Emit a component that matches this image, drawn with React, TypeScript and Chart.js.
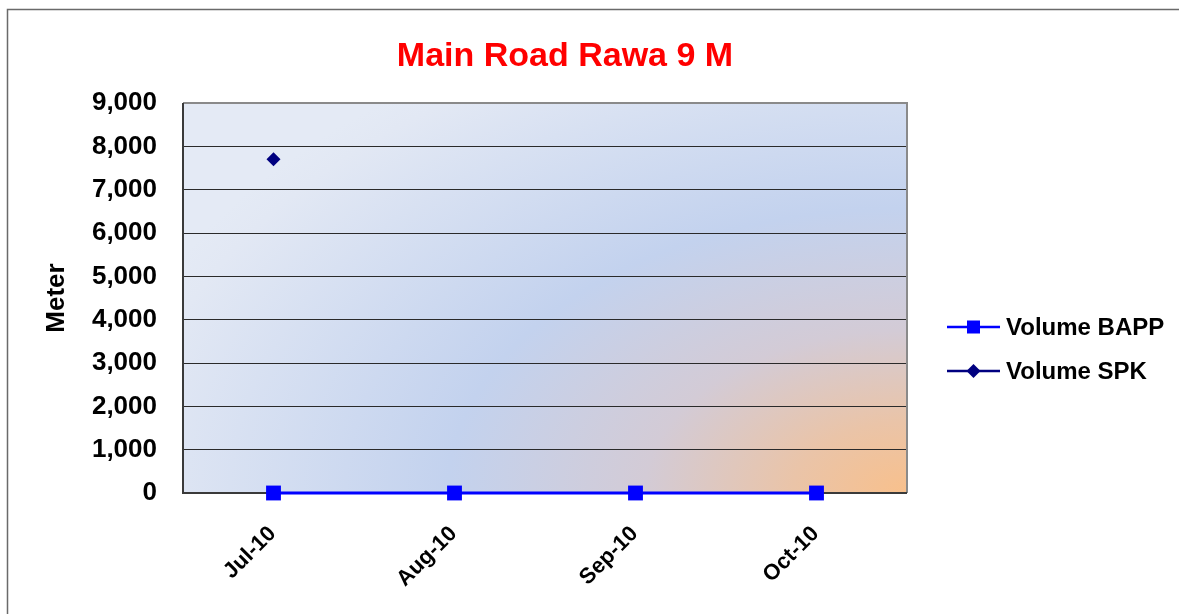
import { useEffect, useRef } from 'react';
import { Chart, registerables } from 'chart.js';

Chart.register(...registerables);

const TITLE = 'Main Road Rawa 9 M';
const Y_TITLE = 'Meter';
const categories = ['Jul-10', 'Aug-10', 'Sep-10', 'Oct-10'];
const volumeBAPP = [0, 0, 0, 0];
const volumeSPK = [7700, null, null, null];
const yTickValues = [0, 1000, 2000, 3000, 4000, 5000, 6000, 7000, 8000, 9000];
const seriesLabels = ['Volume BAPP', 'Volume SPK'];

const FONT = '"Liberation Sans", Arial, sans-serif';

const decorPlugin = {
  id: 'decor',
  beforeDraw(chart: any) {
    const { ctx, chartArea: a } = chart;
    ctx.save();
    // outer chart frame
    ctx.strokeStyle = '#6a6a6a';
    ctx.lineWidth = 1.5;
    ctx.strokeRect(7.5, 9.5, chart.width + 20, chart.height + 20);

    // plot background: elliptical radial gradient from bottom-right corner
    ctx.beginPath();
    ctx.rect(a.left, a.top, a.right - a.left, a.bottom - a.top);
    ctx.clip();
    const ry = 0.62;
    ctx.translate(a.right, a.bottom);
    ctx.scale(1, ry);
    const R = 820;
    const g = ctx.createRadialGradient(0, 0, 0, 0, 0, R);
    g.addColorStop(0, '#f8c08c');
    g.addColorStop(0.14, '#eac4a8');
    g.addColorStop(0.32, '#d3cbd6');
    g.addColorStop(0.56, '#c3d2ee');
    g.addColorStop(0.95, '#e2e8f4');
    g.addColorStop(1, '#e4eaf5');
    ctx.fillStyle = g;
    ctx.fillRect(-(a.right - a.left) - 2, -(a.bottom - a.top) / ry - 2, a.right - a.left + 4, (a.bottom - a.top) / ry + 4);
    ctx.restore();
  },
  beforeDatasetsDraw(chart: any) {
    const { ctx, chartArea: a } = chart;
    ctx.save();
    ctx.lineWidth = 2;
    ctx.strokeStyle = '#8a8a8a';
    ctx.beginPath();
    ctx.moveTo(a.left, a.top);
    ctx.lineTo(a.right, a.top);
    ctx.lineTo(a.right, a.bottom);
    ctx.stroke();
    ctx.strokeStyle = '#3a3a3a';
    ctx.beginPath();
    ctx.moveTo(a.left, a.top);
    ctx.lineTo(a.left, a.bottom);
    ctx.lineTo(a.right, a.bottom);
    ctx.stroke();
    ctx.restore();
  },
  afterDraw(chart: any) {
    const { ctx } = chart;
    ctx.save();
    // title
    ctx.fillStyle = '#ff0000';
    ctx.font = `bold 34px ${FONT}`;
    ctx.textAlign = 'center';
    ctx.textBaseline = 'alphabetic';
    ctx.fillText(TITLE, 565, 66);

    // legend
    chart.data.datasets.forEach((ds: any, i: number) => {
      const y = 327 + i * 44;
      ctx.strokeStyle = ds.borderColor;
      ctx.lineWidth = 2.5;
      ctx.beginPath();
      ctx.moveTo(947, y);
      ctx.lineTo(1000, y);
      ctx.stroke();
      ctx.fillStyle = ds.pointBackgroundColor;
      if (ds.pointStyle === 'rect') {
        ctx.fillRect(973.5 - 6.5, y - 6.5, 13, 13);
      } else {
        ctx.beginPath();
        ctx.moveTo(973.5, y - 7);
        ctx.lineTo(980.5, y);
        ctx.lineTo(973.5, y + 7);
        ctx.lineTo(966.5, y);
        ctx.closePath();
        ctx.fill();
      }
      ctx.fillStyle = '#000';
      ctx.font = `bold 24px ${FONT}`;
      ctx.textAlign = 'left';
      ctx.textBaseline = 'alphabetic';
      ctx.fillText(ds.label, 1006, y + 8);
    });
    ctx.restore();
  },
};

export default function App() {
  const ref = useRef<HTMLCanvasElement | null>(null);

  useEffect(() => {
    if (!ref.current) return;
    const chart = new Chart(ref.current, {
      type: 'line',
      data: {
        labels: categories,
        datasets: [
          {
            label: seriesLabels[0],
            data: volumeBAPP,
            borderColor: '#0000ff',
            backgroundColor: '#0000ff',
            pointBackgroundColor: '#0000ff',
            pointBorderColor: '#0000ff',
            borderWidth: 3,
            pointStyle: 'rect',
            pointRadius: 10.5,
            pointBorderWidth: 0,
            clip: false,
            tension: 0,
          },
          {
            label: seriesLabels[1],
            data: volumeSPK,
            borderColor: '#000080',
            backgroundColor: '#000080',
            pointBackgroundColor: '#000080',
            pointBorderColor: '#000080',
            borderWidth: 2,
            pointStyle: 'rectRot',
            pointRadius: 7,
            pointBorderWidth: 0,
            spanGaps: false,
            clip: false,
          },
        ],
      },
      options: {
        responsive: true,
        maintainAspectRatio: false,
        animation: false,
        layout: { padding: { top: 103, right: 272, bottom: 0, left: 0 } },
        plugins: {
          legend: { display: false },
          title: { display: false },
          tooltip: { enabled: false },
        },
        scales: {
          x: {
            offset: true,
            grid: { display: false, drawTicks: false },
            border: { display: false },
            ticks: {
              minRotation: 45,
              maxRotation: 45,
              padding: 28,
              labelOffset: -1,
              color: '#000',
              font: { family: FONT, size: 22, weight: 'bold' },
            },
            afterFit(s: any) {
              s.height = 121;
            },
          },
          y: {
            min: 0,
            max: 9000,
            afterBuildTicks(s: any) {
              s.ticks = yTickValues.map((v) => ({ value: v }));
            },
            ticks: {
              padding: 26,
              color: '#000',
              font: { family: FONT, size: 26, weight: 'bold' },
              callback: (v: any) => Number(v).toLocaleString('en-US'),
            },
            grid: { color: '#2a2a2a', lineWidth: 1, drawTicks: false },
            border: { display: false },
            title: {
              display: true,
              text: Y_TITLE,
              color: '#000',
              font: { family: FONT, size: 26, weight: 'bold' },
              padding: { top: 41, bottom: 0 },
            },
            afterFit(s: any) {
              s.width = 183;
            },
          },
        },
      },
      plugins: [decorPlugin],
    } as any);
    return () => chart.destroy();
  }, []);

  return (
    <div style={{ position: 'absolute', left: 0, top: 0, width: 1179, height: 614, background: '#fff' }}>
      <canvas ref={ref} style={{ display: 'block' }} />
    </div>
  );
}
